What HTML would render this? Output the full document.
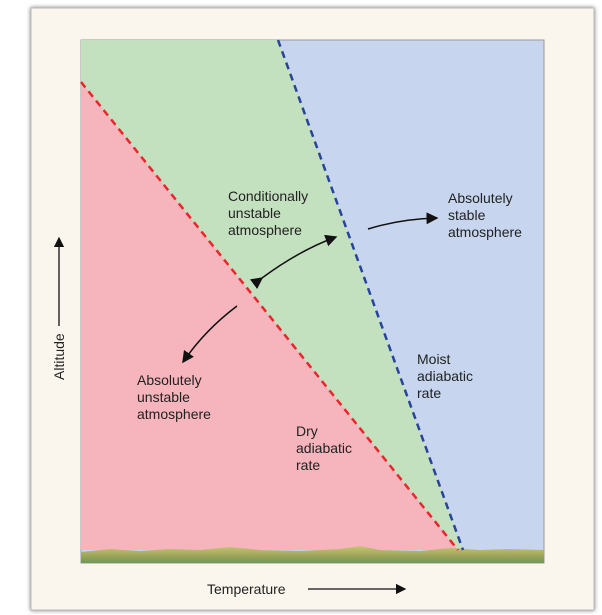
<!DOCTYPE html>
<html><head><style>
body{margin:0;background:#fff;width:602px;height:615px;overflow:hidden;font-family:"Liberation Sans",sans-serif}
svg{position:absolute;left:0;top:0}
</style></head><body>
<svg width="602" height="615">
<defs>
<filter id="sh" x="-5%" y="-5%" width="110%" height="110%"><feDropShadow dx="0" dy="0" stdDeviation="2" flood-color="#777"/></filter>
<marker id="ah" markerWidth="8" markerHeight="8" refX="7" refY="4" orient="auto"><path d="M0,0 L8,4 L0,8 z" fill="#111"/></marker>
<linearGradient id="gr" x1="0" y1="0" x2="0" y2="1"><stop offset="0" stop-color="#c9c474"/><stop offset="0.6" stop-color="#9aa45a"/><stop offset="1" stop-color="#6e9a52"/></linearGradient>
</defs>
<rect x="31" y="8" width="563" height="602" fill="#faf6ee" stroke="#bbb" filter="url(#sh)"/>
<g id="plot"></g>
<text x="228" y="201" font-size="14" fill="#222"><tspan x="228">Conditionally</tspan><tspan x="228" dy="17">unstable</tspan><tspan x="228" dy="17">atmosphere</tspan></text>
<text x="448" y="203" font-size="14" fill="#222"><tspan x="448">Absolutely</tspan><tspan x="448" dy="17">stable</tspan><tspan x="448" dy="17">atmosphere</tspan></text>
<text x="137" y="385" font-size="14" fill="#222"><tspan x="137">Absolutely</tspan><tspan x="137" dy="17">unstable</tspan><tspan x="137" dy="17">atmosphere</tspan></text>
<text x="417" y="364" font-size="14" fill="#222"><tspan x="417">Moist</tspan><tspan x="417" dy="17">adiabatic</tspan><tspan x="417" dy="17">rate</tspan></text>
<text x="296" y="436" font-size="14" fill="#222"><tspan x="296">Dry</tspan><tspan x="296" dy="17">adiabatic</tspan><tspan x="296" dy="17">rate</tspan></text>
<path d="M368,229 Q400,219 437,218" fill="none" stroke="#111" stroke-width="1.5" marker-end="url(#ah)"/>
<path d="M262,278 Q300,250 336,237" fill="none" stroke="#111" stroke-width="1.5" marker-start="url(#ah)" marker-end="url(#ah)"/>
<path d="M237,306 Q205,330 183,362" fill="none" stroke="#111" stroke-width="1.5" marker-end="url(#ah)"/>
<text transform="translate(64,380) rotate(-90)" font-size="14" fill="#222">Altitude</text>
<line x1="59" y1="326" x2="59" y2="238" stroke="#111" stroke-width="1.3" marker-end="url(#ah)"/>
<text x="207" y="594" font-size="14" fill="#222">Temperature</text>
<line x1="308" y1="589" x2="405" y2="589" stroke="#111" stroke-width="1.3" marker-end="url(#ah)"/>
</svg>
<script>
// plot box
const L=81,R=544,T=40,B=563,G=550;
// lapse-rate lines: [xTop,yTop,xBottom,yBottom]
const dryLine=[81,82,458,550];
const moistLine=[278,40,463,550];
const g=document.getElementById('plot');
const NS='http://www.w3.org/2000/svg';
function mk(t,a,name){const e=document.createElementNS(NS,t);for(const k in a)e.setAttribute(k,a[k]);


g.appendChild(e);return e;}
mk('rect',{x:L,y:T,width:R-L,height:B-T,fill:'#c7d6ee',stroke:'#999'},'stable-region');
mk('polygon',{points:`${L},${T} ${moistLine[0]},${T} ${moistLine[2]},${G} ${L},${G}`,fill:'#c4e1bf'},'conditional-region');
mk('polygon',{points:`${L},${dryLine[1]} ${dryLine[2]},${G} ${L},${G}`,fill:'#f6b4bc'},'unstable-region');
mk('path',{d:`M${L},552 L110,549 L140,551 L170,549 L200,550 L230,547 L260,550 L300,551 L340,549 L360,546 L380,550 L420,551 L450,548 L480,550 L510,549 L${R},550 L${R},${B} L${L},${B} Z`,fill:'url(#gr)'},'ground');
mk('line',{x1:dryLine[0],y1:dryLine[1],x2:dryLine[2],y2:dryLine[3],stroke:'#e8262c','stroke-width':2.5,'stroke-dasharray':'7,5'},'dry-adiabatic-line');
mk('line',{x1:moistLine[0],y1:moistLine[1],x2:moistLine[2],y2:moistLine[3],stroke:'#27449a','stroke-width':2.5,'stroke-dasharray':'7,5'},'moist-adiabatic-line');
</script>
</body></html>
